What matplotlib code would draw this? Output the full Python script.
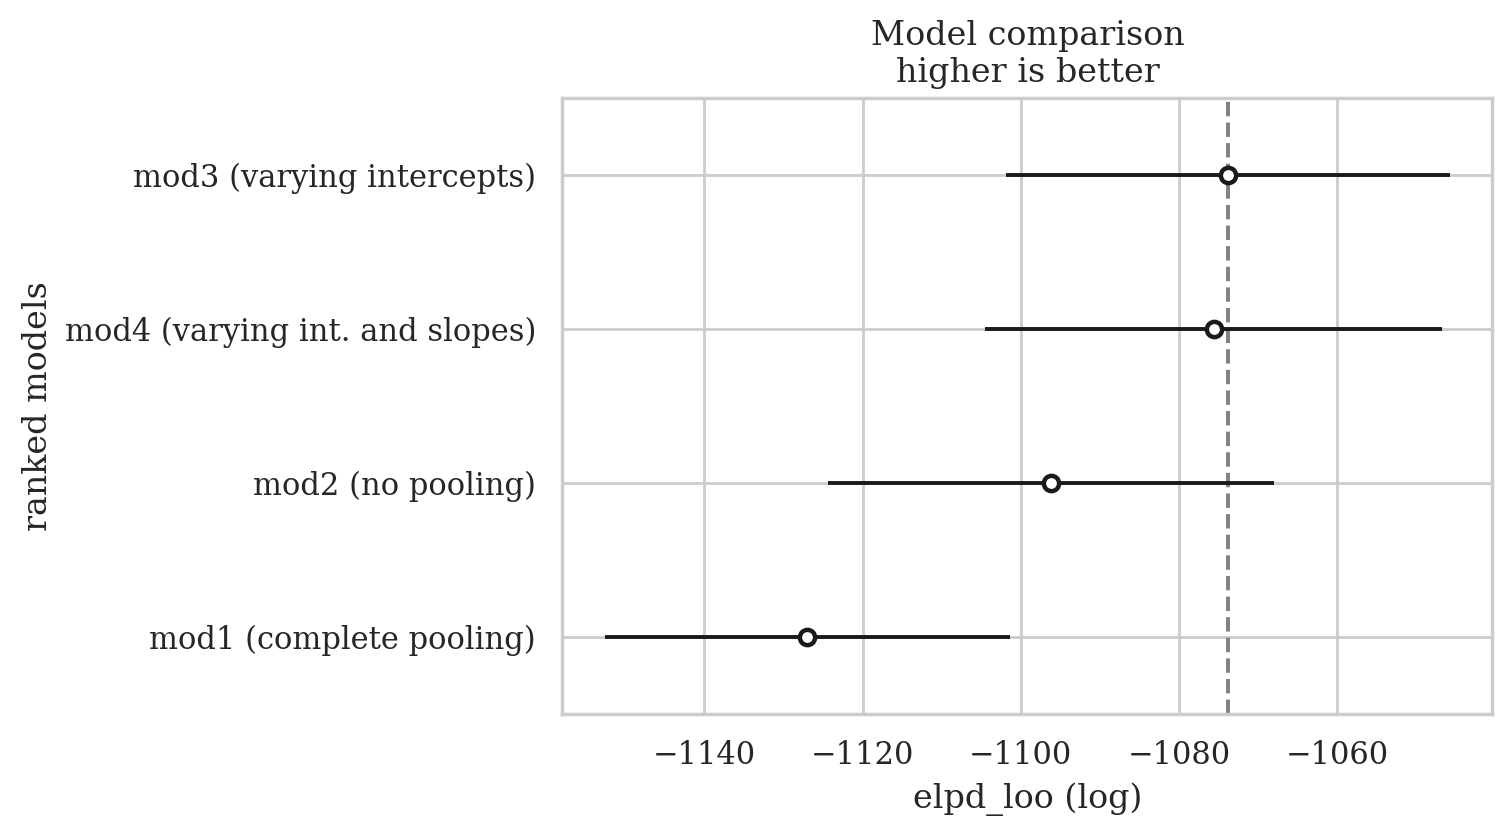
import numpy as np
import matplotlib.pyplot as plt
import seaborn as sns

sns.set_theme(style="whitegrid")
plt.rcParams['font.family'] = ['DejaVu Serif']

# modelos ordenados de abajo hacia arriba
models = ["mod1 (complete pooling)", "mod2 (no pooling)",
          "mod4 (varying int. and slopes)", "mod3 (varying intercepts)"]
elpd = [-1127.0, -1096.2, -1075.6, -1073.8]
se = [25.6, 28.2, 28.9, 28.1]

fig, ax = plt.subplots(figsize=(7.56, 4.165), dpi=200)

y = np.arange(len(models))
ax.errorbar(elpd, y, xerr=se, fmt="o", color="#1a1a1a", lw=1.4,
            mfc="white", mec="#1a1a1a", ms=5.5, mew=1.6, capsize=0, zorder=3)
ax.axvline(max(elpd), ls="--", color="gray", lw=1.4, zorder=2)

ax.set_yticks(y)
ax.set_yticklabels(models, fontsize=11)
ax.set_ylim(-0.5, 3.5)
ax.set_xticks([-1140, -1120, -1100, -1080, -1060])
ax.tick_params(axis="x", labelsize=11)
ax.set_xlabel("elpd_loo (log)", fontsize=12)
ax.set_ylabel("ranked models", fontsize=12)
ax.set_title("Model comparison\nhigher is better", fontsize=12)

fig.subplots_adjust(left=0.372, right=0.987, top=0.882, bottom=0.143)
fig.savefig("out.png")
